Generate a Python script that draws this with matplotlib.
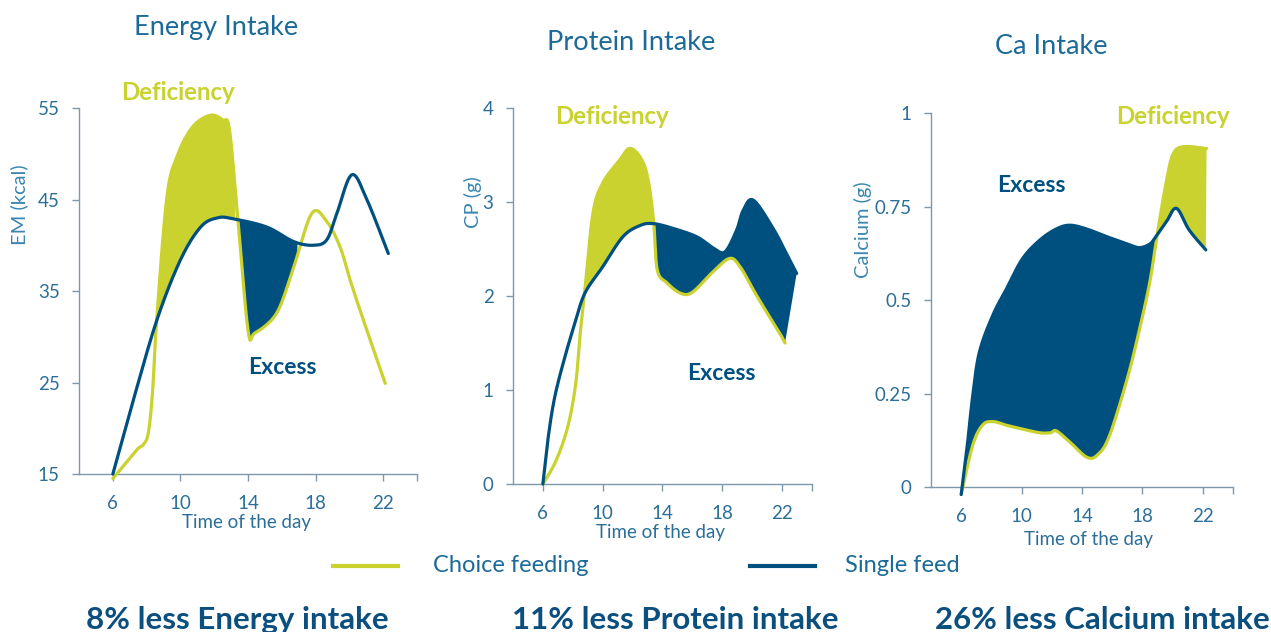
import numpy as np
import matplotlib.pyplot as plt
from matplotlib.lines import Line2D

plt.rcParams['font.family'] = ['Lato', 'DejaVu Sans']

GREEN = '#c9d22e'
BLUE = '#00507f'
TITLE_BLUE = '#1b6a98'
TICK_BLUE = '#2b6f98'
AXIS_GREY = '#7d97ab'

# Hourly intake curves (hour of day, value) for the two feeding systems
energy_single_h = [6, 7.2, 8.6, 10, 11.2, 12.2, 13.1, 15.1, 16.7, 17.87, 18.66, 19.26, 20.14, 21.03, 22.3]
energy_single = [15, 23, 31.8, 38.4, 42, 43, 42.9, 42, 40.4, 40.0, 40.6, 43.5, 47.7, 45.0, 39.1]
energy_choice_h = [6, 7.4, 7.8, 8.1, 8.35, 8.6, 9.2, 9.8, 10.7, 11.75, 12.5, 12.9, 13.4, 14.0, 14.4,
                   15.7, 16.7, 17.78, 18.66, 19.45, 20.04, 20.83, 22.12]
energy_choice = [14.5, 17.6, 18.2, 19.5, 24, 32, 45.3, 49.7, 52.9, 54.2, 53.7, 52.6, 42.8, 30.7, 30.4,
                 32.6, 37.6, 43.5, 42.6, 39.8, 36.2, 31.8, 24.9]

protein_single_h = [6, 6.36, 6.8, 7.47, 8.14, 8.81, 10, 11.35, 12.5, 13.4, 14.7, 16.3, 17.4, 18.18,
                    18.96, 19.4, 20.08, 21.4, 22.3, 22.98]
protein_single = [0, 0.50, 0.93, 1.35, 1.71, 2.03, 2.31, 2.63, 2.75, 2.77, 2.72, 2.63, 2.51, 2.47,
                  2.70, 2.91, 3.02, 2.72, 2.45, 2.24]
protein_choice_h = [6, 6.8, 7.47, 7.92, 8.25, 8.48, 8.8, 9.35, 10, 11.15, 11.8, 12.5, 13.0, 13.4, 13.65,
                    14.3, 15.2, 16.0, 17.4, 18.5, 19.2, 20.1, 21.0, 21.86, 22.2]
protein_choice = [0, 0.22, 0.50, 0.79, 1.14, 1.57, 2.05, 2.88, 3.2, 3.45, 3.57, 3.48, 3.27, 2.81, 2.28,
                  2.14, 2.03, 2.04, 2.26, 2.40, 2.31, 2.06, 1.82, 1.60, 1.50]

calcium_single_h = [6, 6.4, 6.75, 7.2, 8.1, 9.0, 10.05, 11.2, 12.3, 13.2, 14.3, 15.6, 17.0, 17.8, 18.5,
                    18.9, 19.6, 20.26, 21.1, 22.2]
calcium_single = [-0.02, 0.11, 0.24, 0.36, 0.46, 0.53, 0.61, 0.66, 0.69, 0.70, 0.69, 0.67, 0.65, 0.64, 0.65,
                  0.67, 0.71, 0.745, 0.687, 0.634]
calcium_choice_h = [6, 6.75, 7.4, 8.1, 9.0, 10.05, 11.2, 11.9, 12.3, 13.2, 14.3, 15.0, 15.8, 17.0, 17.8,
                    18.5, 19.0, 19.6, 20.03, 20.7, 22.25]
calcium_choice = [-0.02, 0.11, 0.165, 0.175, 0.165, 0.155, 0.145, 0.145, 0.15, 0.12, 0.08, 0.085, 0.135,
                  0.29, 0.42, 0.55, 0.68, 0.82, 0.89, 0.91, 0.905]

hour_ticks = [6, 10, 14, 18, 22]
titles = ['Energy Intake', 'Protein Intake', 'Ca Intake']
ylabels = ['EM (kcal)', 'CP (g)', 'Calcium (g)']
yticks = [[15, 25, 35, 45, 55], [0, 1, 2, 3, 4], [0, 0.25, 0.5, 0.75, 1]]
ytick_labels = [['15', '25', '35', '45', '55'], ['0', '1', '2', '3', '4'], ['0', '0.25', '0.5', '0.75', '1']]
summaries = ['8% less Energy intake', '11% less Protein intake', '26% less Calcium intake']
# hour windows where the gap between the two curves is shaded
deficiency_windows = [(8.55, 13.3), (8.8, 13.45), (19.0, 22.3)]
excess_windows = [(13.3, 16.95), (13.45, 23.1), (6, 19.0)]


def smooth(xs, ys, n=24):
    # Catmull-Rom spline through the read points
    p = np.column_stack([xs, ys]).astype(float)
    p = np.vstack([p[0], p, p[-1]])
    t = np.linspace(0, 1, n, endpoint=False)[:, None]
    out = []
    for i in range(1, len(p) - 2):
        p0, p1, p2, p3 = p[i - 1], p[i], p[i + 1], p[i + 2]
        seg = 0.5 * (2 * p1 + (-p0 + p2) * t + (2 * p0 - 5 * p1 + 4 * p2 - p3) * t ** 2
                     + (-p0 + 3 * p1 - 3 * p2 + p3) * t ** 3)
        out.append(seg)
    out.append(p[-2][None])
    return np.vstack(out)


def shade(ax, top, bottom, lo, hi, color):
    a = top[(top[:, 0] >= lo) & (top[:, 0] <= hi)]
    b = bottom[(bottom[:, 0] >= lo) & (bottom[:, 0] <= hi)]
    poly = np.vstack([a, b[::-1]])
    ax.fill(poly[:, 0], poly[:, 1], color=color, lw=0, clip_on=False, zorder=2)


fig = plt.figure(figsize=(12.71, 6.32), dpi=100)
boxes = [[0.0622, 0.250, 0.2659, 0.5791],
         [0.4036, 0.2342, 0.2352, 0.5949],
         [0.7325, 0.2294, 0.2376, 0.5918]]
series = [(energy_single_h, energy_single, energy_choice_h, energy_choice),
          (protein_single_h, protein_single, protein_choice_h, protein_choice),
          (calcium_single_h, calcium_single, calcium_choice_h, calcium_choice)]
ylabel_xy = [(-0.15, 0.735), (-0.105, 0.75), (-0.195, 0.687)]
xlabel_xy = [(0.494, -0.109), (0.495, -0.106), (0.523, -0.118)]

axes = []
for i, box in enumerate(boxes):
    ax = fig.add_axes(box)
    axes.append(ax)
    sh, sv, ch, cv = series[i]
    single = smooth(sh, sv)
    choice = smooth(ch, cv)

    lo, hi = deficiency_windows[i]
    shade(ax, choice, single, lo, hi, GREEN)
    lo, hi = excess_windows[i]
    shade(ax, single, choice, lo, hi, BLUE)

    ax.plot(choice[:, 0], choice[:, 1], color=GREEN, lw=2.3, clip_on=False, zorder=3,
            solid_capstyle='round')
    ax.plot(single[:, 0], single[:, 1], color=BLUE, lw=2.3, clip_on=False, zorder=4,
            solid_capstyle='round')

    ax.set_xlim(4, 24)
    ax.set_ylim(yticks[i][0], yticks[i][-1])
    ax.set_xticks(hour_ticks)
    ax.set_xticks([24], minor=True)
    ax.set_yticks(yticks[i])
    ax.set_yticklabels(ytick_labels[i])
    for side in ['top', 'right']:
        ax.spines[side].set_visible(False)
    for side in ['left', 'bottom']:
        ax.spines[side].set_color(AXIS_GREY)
        ax.spines[side].set_linewidth(1.0)
    ax.tick_params(which='both', direction='out', length=5, width=1, color=AXIS_GREY,
                   labelcolor=TICK_BLUE, labelsize=13.5)
    ax.tick_params(axis='x', pad=10)
    ax.tick_params(axis='y', pad=9)
    ax.set_xlabel('Time of the day', color=TICK_BLUE, fontsize=13.5)
    ax.set_ylabel(ylabels[i], color='#3a86b0', fontsize=14.5)
    ax.yaxis.set_label_coords(*ylabel_xy[i])
    ax.xaxis.set_label_coords(*xlabel_xy[i])
    ax.patch.set_alpha(0)

title_pos = [(216, 28), (631, 42), (1051, 47)]
for (x, y), t in zip(title_pos, titles):
    fig.text(x / 1271, 1 - y / 632, t, ha='center', va='center', color=TITLE_BLUE, fontsize=19.5)

# region annotations
deficiency_pos = [(178, 92), (612, 116), (1173, 116)]
excess_pos = [(282, 367), (721, 373), (1031, 185)]
for x, y in deficiency_pos:
    fig.text(x / 1271, 1 - y / 632, 'Deficiency', ha='center', va='center', color=GREEN,
             fontsize=17.3, fontweight='bold')
for x, y in excess_pos:
    fig.text(x / 1271, 1 - y / 632, 'Excess', ha='center', va='center', color=BLUE,
             fontsize=16.5, fontweight='bold')

# legend
ly = 1 - 566 / 632
fig.add_artist(Line2D([333 / 1271, 398 / 1271], [ly, ly], color=GREEN, lw=3))
fig.text(433 / 1271, ly, 'Choice feeding', ha='left', va='center', color=TITLE_BLUE, fontsize=17)
fig.add_artist(Line2D([750 / 1271, 815 / 1271], [ly, ly], color=BLUE, lw=3))
fig.text(845 / 1271, ly, 'Single feed', ha='left', va='center', color=TITLE_BLUE, fontsize=17)

for x, s in zip([237, 675, 1102], summaries):
    fig.text(x / 1271, 1 - 620 / 632, s, ha='center', va='center', color='#0b4f7f',
             fontsize=22.5, fontweight='bold')

fig.savefig('out.png', dpi=100)
